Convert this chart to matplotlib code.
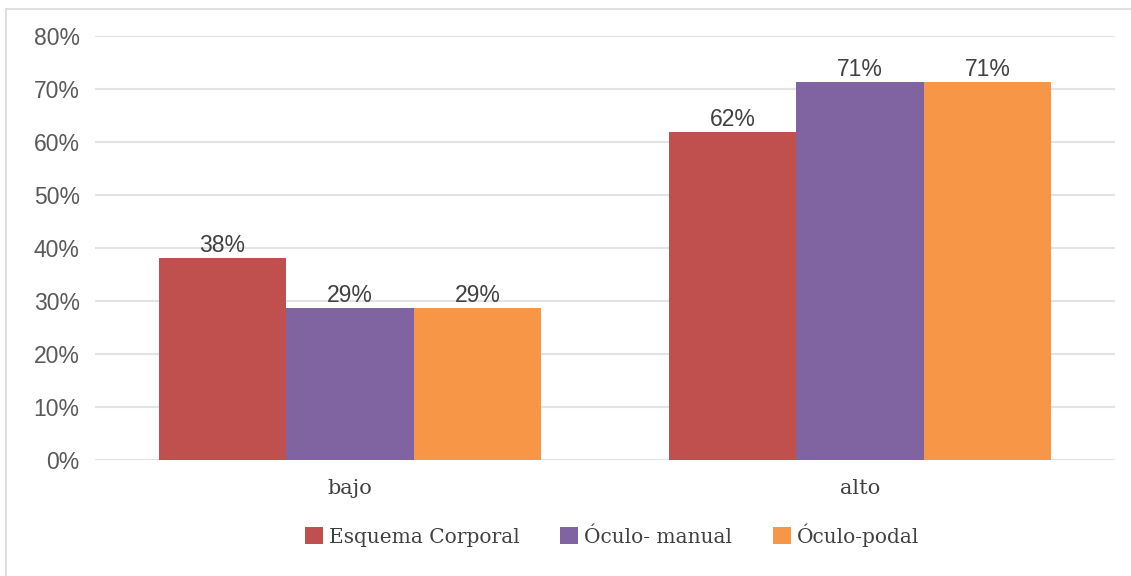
import numpy as np
import matplotlib.pyplot as plt
from matplotlib.patches import Rectangle

# data
categorias = ['bajo', 'alto']
series = ['Esquema Corporal', 'Óculo- manual', 'Óculo-podal']
esquema = [0.381, 0.619]
oculo_manual = [0.286, 0.714]
oculo_podal = [0.286, 0.714]
colores = ['#C0504D', '#8064A2', '#F79646']

valores = [esquema, oculo_manual, oculo_podal]

fig = plt.figure(figsize=(11.31, 5.76), dpi=100)
ax = fig.add_axes([95 / 1131, 1 - 460 / 576, 1020 / 1131, 424 / 576])

x = np.arange(len(categorias))
ancho = 0.25
for i, (nombre, vals, col) in enumerate(zip(series, valores, colores)):
    pos = x + (i - 1) * ancho
    barras = ax.bar(pos, vals, ancho, color=col, label=nombre, zorder=3)
    for b, v in zip(barras, vals):
        ax.text(b.get_x() + b.get_width() / 2, v + 0.002, f'{round(v * 100):.0f}%',
                ha='center', va='bottom', fontsize=16.5, color='#404040',
                family='Liberation Sans', zorder=4)

ax.set_xlim(-0.5, 1.5)
ax.set_ylim(0, 0.8)
ax.set_yticks(np.arange(0, 0.81, 0.1))
ax.set_yticklabels([f'{int(round(t * 100))}%' for t in np.arange(0, 0.81, 0.1)],
                   fontsize=16.5, color='#595959', family='Liberation Sans')
ax.set_xticks(x)
ax.set_xticklabels(categorias, fontsize=15, color='#404040', family='DejaVu Serif')
ax.tick_params(axis='both', length=0)
ax.tick_params(axis='y', pad=11)
ax.tick_params(axis='x', pad=14)
ax.grid(axis='y', color='#e3e3e3', linewidth=1.5, zorder=0)
for s in ax.spines.values():
    s.set_visible(False)

leg = fig.legend(loc='center', bbox_to_anchor=(612 / 1131, 1 - 535 / 576), ncol=3,
                 frameon=False, prop={'family': 'DejaVu Serif', 'size': 14.5},
                 handlelength=0.9, handleheight=0.9, handletextpad=0.3, columnspacing=2.0)
for t in leg.get_texts():
    t.set_color('#404040')

# borde del grafico
fig.add_artist(Rectangle((6 / 1131, -0.1), 1.2, 1 - 9 / 576 + 0.1, transform=fig.transFigure,
                         fill=False, edgecolor='#d9d9d9', linewidth=1.2))

fig.savefig('out.png', dpi=100)
